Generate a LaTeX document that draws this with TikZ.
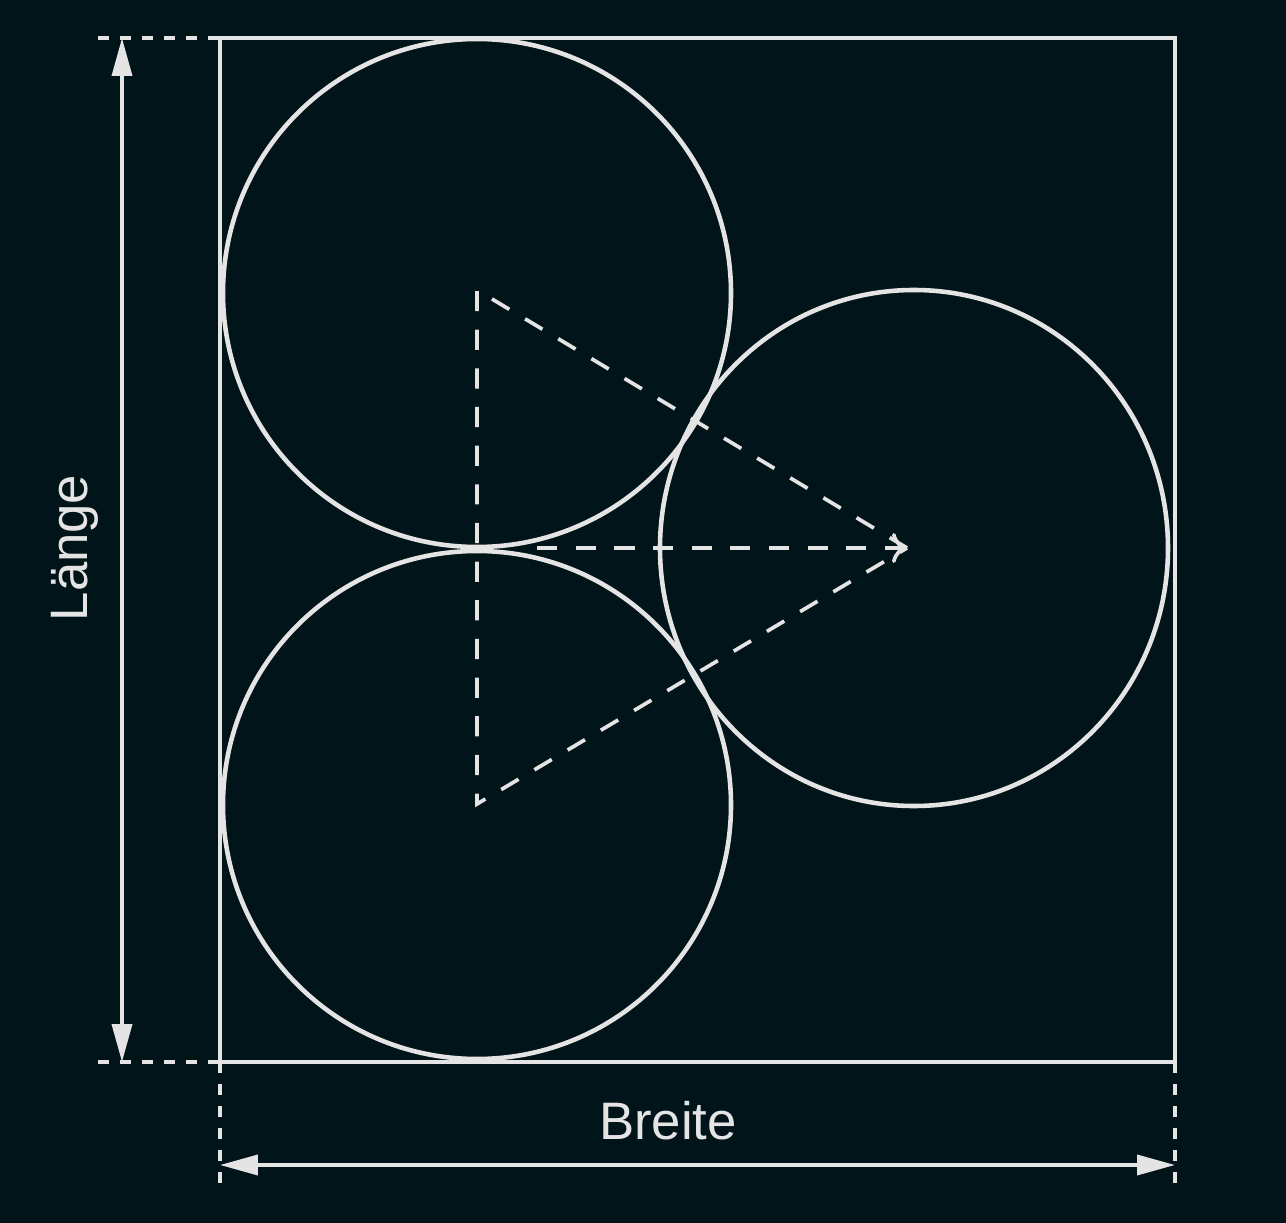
\documentclass[tikz,border=0pt]{standalone}
\usepackage{fontspec}
\setmainfont{Liberation Sans}
\usetikzlibrary{arrows.meta,calc}
\definecolor{bgcol}{RGB}{1,20,26}
\definecolor{linecol}{RGB}{228,228,228}
\tikzset{>={Triangle[length=0.76cm,width=0.4cm]}}
\tikzstyle{outline}=[draw=linecol,line width=2.6pt]
\tikzstyle{helper}=[draw=linecol,line width=2.1pt,dash pattern=on 11.5pt off 10.5pt]
\tikzstyle{extline}=[draw=linecol,line width=1.9pt,dash pattern=on 6.5pt off 6pt]
\tikzstyle{dimline}=[draw=linecol,line width=2.1pt,<->]
\tikzstyle{dimlabel}=[text=linecol,font=\fontsize{30}{36}\selectfont,inner sep=0pt]

\begin{document}
\begin{tikzpicture}[x=0.02cm,y=-0.02cm]
\def \rad {254};
\def \left {220};
\def \right {1175};
\def \top {38};
\def \bottom {1062};

\fill[bgcol] (0,0) rectangle (1286,1223);
\useasboundingbox (0,0) rectangle (1286,1223);

% box
\coordinate (tl) at (\left,\top);
\coordinate (br) at (\right,\bottom);
\draw[outline] (tl) rectangle (br);

% circles
\coordinate (c1) at (477,293);
\coordinate (c2) at (477,805);
\coordinate (c3) at (914,548);
\foreach \c in {c1,c2} {
	\draw[outline] (\c) circle (\rad);
};
\draw[outline] (c3) ellipse ({\rad} and {\rad+4});

% triangle of centres
\coordinate (t1) at (477,290);
\coordinate (t2) at (907,548);
\coordinate (t3) at (477,804);
\coordinate (m) at (537,548);
\draw[helper] (t2) -- (t1) -- (t3) -- cycle;
\draw[helper,-{To[length=0.3cm,width=0.6cm]}] (m) -- (t2);

% length
\coordinate (e1) at (98,\top);
\coordinate (e2) at (98,\bottom);
\draw[extline] (e1) -- (tl);
\draw[extline] (e2) -- (\left,\bottom);
\coordinate (l1) at (122,\top);
\coordinate (l2) at (122,\bottom);
\draw[dimline] (l1) -- (l2);
\node[dimlabel,rotate=90] (laenge) at (75,548) {Länge};

% width
\coordinate (f1) at (\left,1186);
\coordinate (f2) at (\right,1186);
\draw[extline] (\left,\bottom) -- (f1);
\draw[extline] (br) -- (f2);
\coordinate (b1) at (\left,1165);
\coordinate (b2) at (\right,1165);
\draw[dimline] (b1) -- (b2);
\node[dimlabel] (breite) at (668,1121) {Breite};

\end{tikzpicture}
\end{document}
